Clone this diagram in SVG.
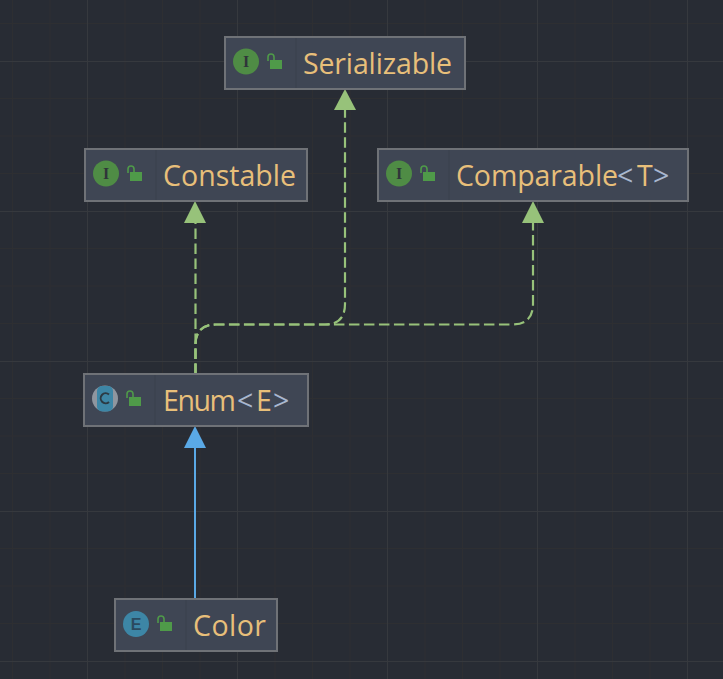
<svg xmlns="http://www.w3.org/2000/svg" width="723" height="679" viewBox="0 0 723 679">
<style>
.minor{stroke:#2e2f32;stroke-width:1;fill:none}
.major{stroke:#36393e;stroke-width:1;fill:none}
.box{fill:#3f4654;stroke:#6f7277;stroke-width:2}
.div{stroke:#3b414d;stroke-width:1}
.t{font-family:"Open Sans","Noto Sans","Liberation Sans",sans-serif;font-size:28.5px;fill:#e8bf7a}
.p{fill:#a9b7cf}
.badge{font-family:"Liberation Serif",serif;font-size:16px;font-weight:bold;text-anchor:middle;fill:#2f353a}
.dash{fill:none;stroke:#97c27a;stroke-width:2.2;stroke-dasharray:10.500 4.500}
.solid{fill:none;stroke:#5aa9e6;stroke-width:2}
.lockb{fill:#4f9a49}
.locks{fill:none;stroke:#4f9a49;stroke-width:1.6}
</style>
<rect width="723" height="679" fill="#282c34"/>
<g>
<path class="minor" d="M12.500 0V679M50 0V679M125 0V679M162.500 0V679M200 0V679M275 0V679M312.500 0V679M350 0V679M425 0V679M462.500 0V679M500 0V679M575 0V679M612.500 0V679M650 0V679"/>
<path class="minor" d="M0 23.500H723M0 98.500H723M0 136H723M0 173.500H723M0 248.500H723M0 286H723M0 323.500H723M0 398.500H723M0 436H723M0 473.500H723M0 548.500H723M0 586H723M0 623.500H723"/>
<path class="major" d="M87.500 0V679M237.500 0V679M387.500 0V679M537.500 0V679M687.500 0V679"/>
<path class="major" d="M0 61.500H723M0 211.500H723M0 361.500H723M0 511.500H723M0 661.500H723"/>
</g>
<g id="connectors">
<path class="dash" d="M195.500 374V222"/>
<path class="dash" d="M195.500 374V345Q195.500 324.500 216 324.500H325Q345 324.500 345 304V108"/>
<path class="dash" d="M195.500 374V345Q195.500 324.500 216 324.500H512Q533 324.500 533 304V222"/>
<path class="solid" d="M195 598V446"/>
<polygon points="345,89 334,110 356,110" fill="#97c27a"/>
<polygon points="195,201 184,223 206,223" fill="#97c27a"/>
<polygon points="533,201 522,223 544,223" fill="#97c27a"/>
<polygon points="195,426 184,448 206,448" fill="#5aa9e6"/>
</g>
<g id="node-serializable">
<rect class="box" x="225" y="37" width="240" height="52"/>
<path class="div" d="M296 38V88"/>
<circle cx="246" cy="61.500" r="13" fill="#4f8c45"/>
<text class="badge" x="246" y="67">I</text>
<rect class="lockb" x="270" y="60" width="12" height="9"/><path class="locks" d="M268 61V57Q268 54 271 54Q274 54 274 57V60"/>
<text class="t" x="303" y="74" textLength="149">Serializable</text>
</g>
<g id="node-constable">
<rect class="box" x="85" y="149" width="222" height="52"/>
<path class="div" d="M156 150V200"/>
<circle cx="106" cy="173.500" r="13" fill="#4f8c45"/>
<text class="badge" x="106" y="179">I</text>
<rect class="lockb" x="130" y="172" width="12" height="9"/><path class="locks" d="M128 173V169Q128 166 131 166Q134 166 134 169V172"/>
<text class="t" x="163" y="186" textLength="133">Constable</text>
</g>
<g id="node-comparable">
<rect class="box" x="378" y="149" width="310" height="52"/>
<path class="div" d="M449 150V200"/>
<circle cx="399" cy="173.500" r="13" fill="#4f8c45"/>
<text class="badge" x="399" y="179">I</text>
<rect class="lockb" x="423" y="172" width="12" height="9"/><path class="locks" d="M421 173V169Q421 166 424 166Q427 166 427 169V172"/>
<text class="t" x="456" y="186"><tspan textLength="162">Comparable</tspan><tspan class="p" x="617">&lt;</tspan><tspan x="637">T</tspan><tspan class="p" x="653">&gt;</tspan></text>
</g>
<g id="node-enum">
<rect class="box" x="84" y="374" width="224" height="52"/>
<path class="div" d="M155 375V425"/>
<circle cx="105" cy="398.500" r="13" fill="#8f969f"/>
<rect x="97" y="386" width="16" height="25.500" rx="5" fill="#3d86a6"/>
<path d="M109 394.500A5 5 0 1 0 109 402" fill="none" stroke="#2c3a44" stroke-width="2"/>
<rect class="lockb" x="129" y="397" width="12" height="9"/><path class="locks" d="M127 398V394Q127 391 130 391Q133 391 133 394V397"/>
<text class="t" x="163" y="411"><tspan textLength="73">Enum</tspan><tspan class="p" x="237">&lt;</tspan><tspan x="256">E</tspan><tspan class="p" x="273">&gt;</tspan></text>
</g>
<g id="node-color">
<rect class="box" x="115" y="599" width="162" height="52"/>
<path class="div" d="M186 600V650"/>
<circle cx="136" cy="624" r="13" fill="#3d86a6"/>
<text class="badge" x="136" y="630" style="font-family:'Liberation Sans',sans-serif;font-size:16px;fill:#2b4a5f">E</text>
<rect class="lockb" x="160" y="622" width="12" height="9"/><path class="locks" d="M158 623V619Q158 616 161 616Q164 616 164 619V622"/>
<text class="t" x="193" y="636" textLength="73">Color</text>
</g>
</svg>
